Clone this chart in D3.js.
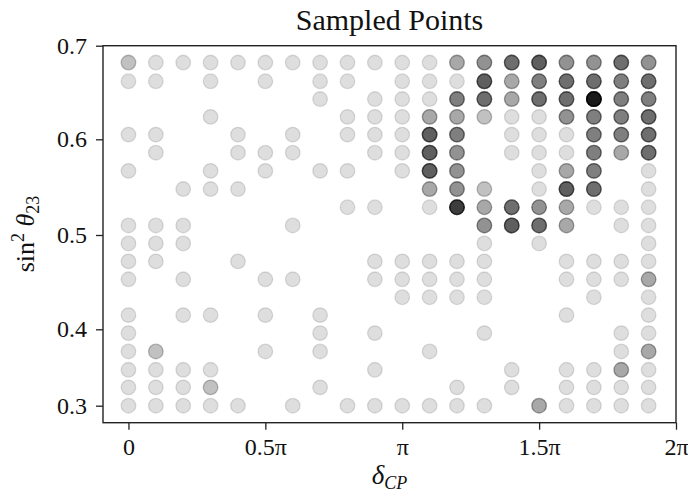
<!DOCTYPE html>
<html><head><meta charset="utf-8">
<script src="https://cdn.jsdelivr.net/npm/d3@7"></script>
<style>
body{margin:0;background:#fff}
svg{display:block}
text{font-family:"Liberation Serif","DejaVu Serif",serif;fill:#111}
</style>
</head><body>
<svg id="chart" width="688" height="498"></svg>
<script>
// δCP grid (in units of π)
const deltaCPOverPi = [0,0.1,0.2,0.3,0.4,0.5,0.6,0.7,0.8,0.9,1.0,1.1,1.2,1.3,1.4,1.5,1.6,1.7,1.8,1.9];
// sin²θ23 grid, top row first
const sin2Theta23 = [0.682,0.662,0.643,0.624,0.605,0.586,0.567,0.548,0.529,0.510,0.491,0.472,0.453,0.434,0.415,0.395,0.371,0.347,0.324,0.300];
// number of samples that landed on each grid cell (rows follow sin2Theta23, columns follow deltaCPOverPi)
const sampleCounts = [
  [2,1,1,1,1,1,1,1,1,1,1,1,3,4,6,7,4,4,6,4],
  [1,1,0,1,0,1,0,1,1,0,1,1,1,7,3,5,6,6,5,6],
  [0,0,0,0,0,0,0,1,0,1,1,1,5,6,3,6,6,16,5,5],
  [0,0,0,1,0,0,0,0,1,1,1,3,3,2,1,1,4,5,5,6],
  [1,1,0,0,1,0,1,0,1,1,1,7,5,0,1,1,1,5,5,6],
  [0,1,0,0,1,1,1,0,0,1,1,7,4,0,1,1,1,5,3,6],
  [1,0,0,1,0,1,0,1,1,0,1,7,4,0,0,1,3,5,0,1],
  [0,0,1,1,1,0,0,0,0,0,0,3,4,2,0,1,7,6,0,1],
  [0,0,0,0,0,0,0,0,1,1,0,1,10,3,6,4,3,1,1,1],
  [1,1,1,0,0,0,1,0,0,0,0,0,0,4,7,6,3,0,1,1],
  [1,1,1,0,0,0,0,0,0,0,0,0,0,1,0,1,0,0,0,1],
  [1,1,0,0,1,0,0,0,0,1,1,1,1,1,0,0,1,1,1,1],
  [1,0,1,0,0,1,1,0,0,1,1,1,1,1,0,0,1,1,1,3],
  [0,0,0,0,0,0,0,0,0,0,1,1,1,1,0,0,0,1,0,1],
  [1,0,1,1,0,1,0,1,0,0,0,0,0,0,0,0,1,0,0,1],
  [1,0,0,0,0,0,0,1,0,1,0,0,0,1,0,0,0,0,1,1],
  [1,2,0,0,0,1,0,1,0,0,0,1,0,0,0,0,0,0,1,3],
  [1,1,1,1,0,0,0,0,0,1,0,0,0,0,1,0,1,1,3,1],
  [1,1,1,2,0,0,0,1,0,0,0,0,1,0,1,0,1,1,1,1],
  [1,1,1,1,1,0,1,0,1,1,1,1,1,1,0,3,1,1,1,1]
];
const xTickValues = [0,0.5,1,1.5,2];
const xTickLabels = ["0","0.5π","π","1.5π","2π"];
const yTickValues = [0.3,0.4,0.5,0.6,0.7];
const yTickLabels = ["0.3","0.4","0.5","0.6","0.7"];

const svg = d3.select("#chart");
const L = 103, R = 676, T = 45.7, B = 422.7;

const x = d3.scaleLinear().domain([-0.093, 2]).range([L, R]);
// axis as drawn in the reference (tick spacing is not uniform)
const y = d3.scaleLinear()
  .domain([0.278, 0.3, 0.4, 0.5, 0.6, 0.7])
  .range([B, 405.7, 329.3, 235, 139.3, T]);

// expand samples
const samples = [];
sampleCounts.forEach((row, i) => row.forEach((n, k) => {
  for (let s = 0; s < n; s++) samples.push({d: deltaCPOverPi[k], s: sin2Theta23[i]});
}));

svg.append("g").selectAll("circle").data(samples).join("circle")
  .attr("cx", d => x(d.d))
  .attr("cy", d => y(d.s))
  .attr("r", 7.3)
  .attr("fill", "#000").attr("fill-opacity", 0.13)
  .attr("stroke", "#000").attr("stroke-opacity", 0.13).attr("stroke-width", 1.3);

// axes
const xAxis = svg.append("g").attr("transform", `translate(0,${B})`)
  .call(d3.axisBottom(x).tickValues(xTickValues).tickFormat((d,i)=>xTickLabels[i]).tickSize(7).tickPadding(8));
const yAxis = svg.append("g").attr("transform", `translate(${L},0)`)
  .call(d3.axisLeft(y).tickValues(yTickValues).tickFormat((d,i)=>yTickLabels[i]).tickSize(7).tickPadding(9));
[xAxis, yAxis].forEach(g => {
  g.select(".domain").remove();
  g.selectAll(".tick line").attr("stroke", "#222").attr("stroke-width", 1.3);
  g.selectAll(".tick text").style("font-family", '"Liberation Serif",serif').style("font-size", "24px").attr("fill", "#111");
});

// frame
svg.append("rect").attr("x", L).attr("y", T).attr("width", R - L).attr("height", B - T)
  .attr("fill", "none").attr("stroke", "#222").attr("stroke-width", 1.4);

// title
svg.append("text").attr("x", (L + R) / 2).attr("y", 30).attr("text-anchor", "middle")
  .style("font-size", "30px").text("Sampled Points");

// x label
const xl = svg.append("text").attr("x", (L + R) / 2).attr("y", 484).attr("text-anchor", "middle").style("font-size", "27px");
xl.append("tspan").style("font-style", "italic").text("δ");
xl.append("tspan").style("font-style", "italic").style("font-size", "18px").attr("dy", 5).text("CP");

// y label
const yl = svg.append("text").attr("transform", "translate(34,234) rotate(-90)").attr("text-anchor", "middle").style("font-size", "26px");
yl.append("tspan").text("sin");
yl.append("tspan").style("font-size", "18px").attr("dy", -10).text("2");
yl.append("tspan").style("font-style", "italic").attr("dy", 10).text(" θ");
yl.append("tspan").style("font-size", "18px").attr("dy", 5).text("23");
</script>
</body></html>
